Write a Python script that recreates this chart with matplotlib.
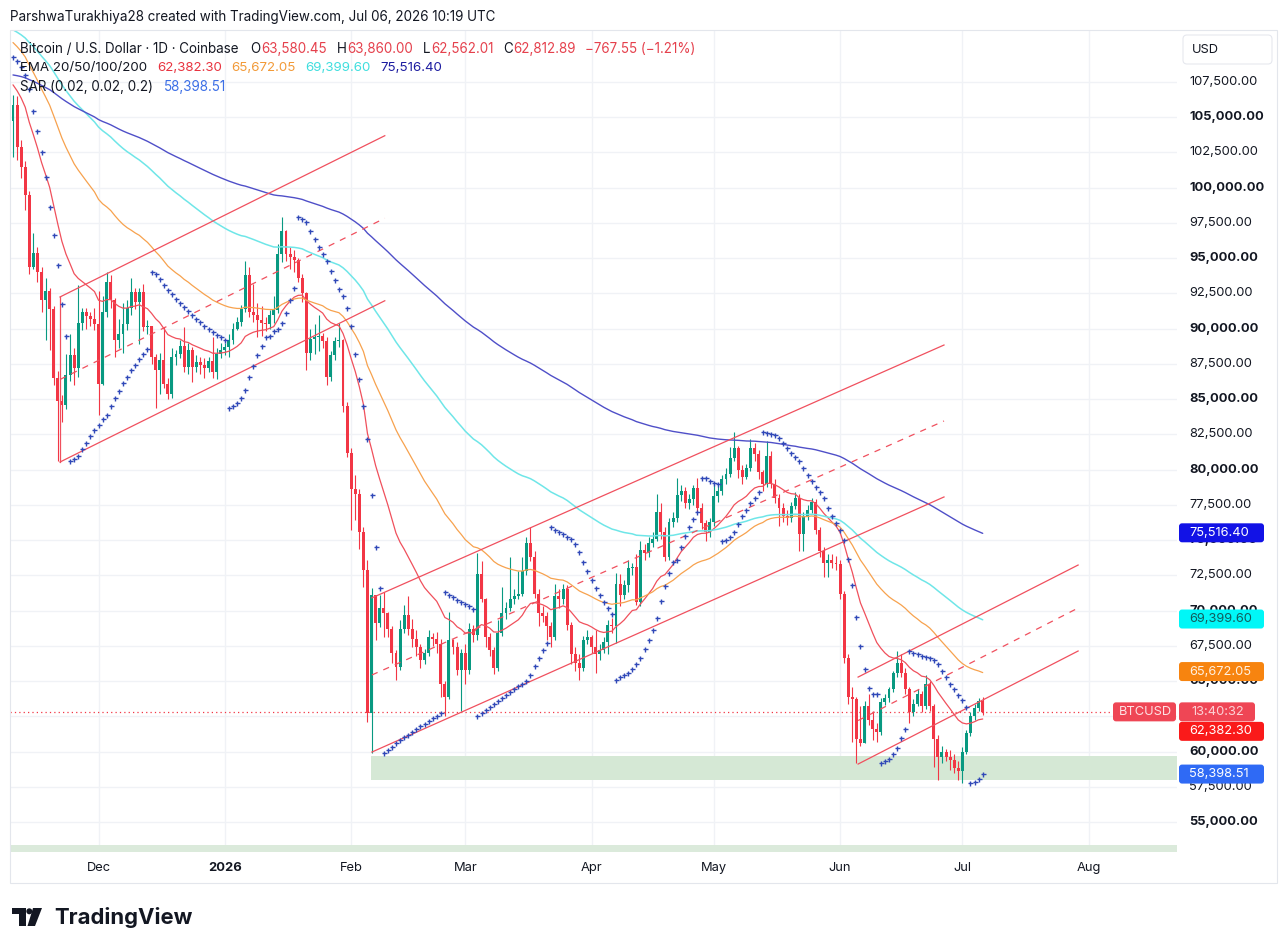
import numpy as np
import pandas as pd
import matplotlib
matplotlib.use("Agg")
import matplotlib.pyplot as plt
from matplotlib.patches import Rectangle, FancyBboxPatch, Polygon, Circle
from matplotlib.transforms import IdentityTransform

W, H = 1288, 952
plt.rcParams["font.family"] = ["Inter", "DejaVu Sans"]

# ---------------- data (prices in thousands USD) ----------------
start_date = "2025-11-10"
first_open_k = 104.7
close_k = [
    105.9, 102.9, 101.5, 99.5, 94.4, 95.4, 94.0, 92.0, 92.7, 91.4,
    86.5, 84.9, 84.6, 86.7, 88.1, 87.2, 90.4, 91.2, 90.9, 90.7,
    90.3, 86.1, 91.2, 93.3, 92.0, 89.2, 89.6, 90.3, 91.5, 92.6,
    91.9, 92.6, 90.1, 90.2, 88.0, 87.1, 87.8, 86.1, 85.4, 88.0,
    88.2, 88.8, 87.3, 88.5, 87.3, 87.6, 87.4, 87.2, 87.7, 86.9,
    88.2, 88.5, 88.7, 89.2, 90.0, 90.5, 91.4, 93.8, 91.2, 91.0,
    90.6, 90.4, 90.3, 91.0, 91.3, 95.3, 96.9, 95.3, 95.1, 94.9,
    93.6, 92.5, 88.3, 89.3, 89.4, 89.5, 89.1, 86.6, 88.1, 89.1,
    89.2, 84.5, 81.2, 78.6, 78.3, 75.6, 72.9, 62.7, 71.1, 69.1,
    70.2, 69.8, 68.7, 67.0, 66.0, 68.7, 69.7, 68.7, 68.0, 67.4,
    66.5, 67.0, 68.1, 68.0, 67.6, 64.8, 63.9, 67.9, 67.4, 65.8,
    67.0, 65.8, 68.7, 68.3, 72.6, 70.8, 68.1, 67.2, 65.9, 68.4,
    69.8, 70.2, 70.8, 71.0, 71.2, 72.8, 74.8, 73.8, 71.2, 69.8,
    69.6, 68.9, 68.1, 71.0, 70.8, 71.5, 69.0, 66.9, 66.3, 65.9,
    67.9, 68.1, 67.4, 66.9, 67.2, 67.8, 69.0, 68.9, 71.9, 71.1,
    71.8, 73.0, 73.1, 70.6, 74.3, 74.1, 74.8, 75.1, 77.0, 75.6,
    73.8, 76.3, 76.6, 78.2, 78.5, 77.6, 77.9, 78.7, 77.3, 76.2,
    75.6, 76.3, 78.1, 78.5, 79.3, 79.7, 80.8, 81.5, 80.0, 79.5,
    80.1, 81.5, 81.1, 79.8, 79.0, 81.0, 79.0, 78.0, 77.3, 76.7,
    76.6, 77.4, 78.0, 75.4, 76.7, 77.1, 77.7, 75.7, 74.2, 73.4,
    73.6, 73.4, 73.3, 71.2, 66.6, 63.9, 63.7, 60.9, 60.6, 63.2,
    62.2, 61.6, 61.4, 63.5, 63.8, 64.4, 65.6, 66.3, 65.6, 64.4,
    62.8, 63.4, 64.1, 63.2, 64.8, 63.2, 60.9, 59.6, 60.0, 59.6,
    59.4, 58.8, 58.6, 60.0, 61.3, 62.5, 63.1, 63.58045, 62.81289,
]
high_k = [
    106.6, 106.5, 103.4, 101.9, 99.8, 96.8, 95.8, 94.4, 93.6, 92.9,
    91.6, 87.0, 85.3, 88.2, 89.6, 88.6, 93.1, 91.5, 91.5, 91.2,
    91.5, 92.7, 92.3, 94.0, 93.8, 92.2, 90.7, 91.8, 92.0, 93.6,
    92.9, 92.9, 93.2, 90.6, 90.2, 88.2, 88.3, 90.1, 86.5, 88.6,
    88.5, 89.2, 90.1, 89.0, 88.7, 88.1, 88.0, 87.9, 88.0, 89.4,
    88.6, 89.0, 88.95, 89.6, 90.4, 90.8, 91.7, 94.8, 94.4, 93.2,
    91.8, 91.6, 90.8, 91.3, 92.3, 96.0, 97.9, 97.0, 95.8, 95.6,
    95.0, 93.9, 92.6, 90.0, 90.3, 91.0, 89.7, 89.4, 88.4, 89.4,
    90.4, 89.3, 84.8, 81.5, 79.6, 78.6, 75.9, 73.6, 71.6, 71.0,
    71.1, 71.3, 69.9, 68.9, 67.2, 69.3, 70.4, 71.0, 69.4, 68.6,
    67.6, 67.3, 68.6, 68.4, 68.5, 68.0, 65.0, 69.9, 68.0, 67.8,
    67.3, 67.6, 69.1, 69.0, 74.1, 73.5, 70.9, 68.4, 67.4, 69.3,
    71.7, 70.6, 73.8, 71.5, 72.8, 73.8, 75.2, 75.9, 74.2, 71.5,
    70.3, 69.9, 69.2, 71.9, 71.5, 71.9, 71.8, 69.2, 67.4, 66.9,
    68.2, 68.6, 68.3, 68.6, 67.6, 68.1, 69.3, 69.5, 72.7, 72.6,
    72.2, 73.6, 73.4, 74.0, 74.9, 74.7, 75.2, 75.6, 78.3, 77.6,
    75.9, 76.6, 77.0, 79.4, 78.9, 78.8, 78.3, 78.9, 79.4, 77.6,
    76.4, 76.6, 79.0, 78.9, 79.6, 80.1, 81.6, 82.7, 81.7, 80.3,
    80.4, 82.2, 81.9, 81.4, 80.0, 82.0, 81.3, 79.3, 78.3, 77.6,
    77.1, 77.7, 78.4, 78.3, 77.0, 77.5, 78.0, 77.9, 75.9, 74.5,
    74.0, 74.0, 73.9, 73.6, 71.4, 66.9, 64.6, 63.9, 63.2, 63.6,
    64.1, 62.9, 62.0, 63.8, 64.1, 64.6, 65.7, 67.1, 66.9, 65.9,
    64.6, 63.7, 64.4, 64.3, 65.4, 65.0, 63.4, 61.2, 60.4, 60.2,
    60.1, 59.8, 59.3, 60.3, 61.5, 62.8, 63.4, 63.8, 63.86,
]
low_k = [
    102.2, 102.0, 100.7, 98.4, 93.9, 94.2, 93.3, 91.2, 89.2, 88.5,
    86.0, 80.6, 83.4, 84.3, 86.3, 86.0, 86.6, 89.9, 90.0, 90.2,
    89.9, 83.9, 86.0, 90.8, 91.5, 88.0, 88.6, 88.3, 89.9, 91.0,
    91.4, 88.9, 89.8, 89.6, 87.5, 84.4, 85.4, 85.8, 85.0, 85.1,
    87.4, 87.9, 86.9, 86.8, 86.2, 86.9, 86.8, 86.5, 86.9, 86.5,
    86.4, 87.9, 88.1, 88.0, 88.9, 89.9, 90.2, 91.2, 90.8, 90.5,
    89.4, 89.5, 89.8, 90.0, 90.4, 91.1, 94.7, 94.8, 94.2, 94.0,
    93.3, 91.9, 87.1, 87.8, 88.2, 88.4, 88.6, 86.0, 86.3, 87.8,
    88.7, 84.1, 80.9, 75.7, 76.4, 74.4, 71.7, 62.1, 59.9, 67.9,
    68.8, 68.1, 68.1, 66.3, 65.1, 65.8, 68.4, 68.3, 67.4, 66.8,
    65.9, 66.2, 66.8, 67.5, 67.0, 63.9, 62.5, 63.7, 66.9, 65.4,
    62.9, 64.8, 65.5, 67.8, 67.9, 70.6, 67.4, 66.8, 65.5, 65.7,
    68.2, 69.4, 70.0, 70.5, 70.8, 71.0, 72.5, 73.5, 70.9, 68.9,
    69.2, 67.9, 67.4, 67.9, 70.2, 70.5, 68.6, 66.2, 65.7, 65.1,
    65.7, 67.6, 67.0, 65.6, 66.5, 67.0, 66.9, 68.4, 67.7, 70.3,
    70.8, 71.3, 72.5, 70.4, 70.3, 73.6, 73.8, 74.5, 74.9, 75.1,
    73.5, 73.6, 75.9, 76.3, 77.8, 77.3, 77.2, 77.5, 77.0, 75.8,
    74.9, 75.2, 76.0, 77.7, 78.2, 79.0, 79.5, 80.6, 79.4, 79.0,
    79.3, 79.9, 80.6, 79.3, 78.5, 78.8, 78.7, 77.6, 76.0, 76.3,
    76.1, 76.3, 77.2, 74.2, 74.2, 76.4, 76.9, 75.4, 73.8, 72.4,
    72.4, 73.0, 72.9, 70.8, 66.3, 63.4, 60.7, 59.2, 60.4, 60.6,
    61.9, 60.8, 60.7, 61.2, 63.3, 63.5, 64.2, 65.3, 65.3, 64.1,
    62.0, 62.5, 63.2, 62.8, 63.0, 62.9, 58.9, 57.98, 59.2, 59.3,
    58.7, 58.5, 57.98, 57.74, 59.8, 61.1, 62.2, 62.9, 62.56201,
]

ema_periods = [20, 50, 100, 200]
ema_start_k = [107.3, 110.3, 111.2, 108.0]        # EMA values at the first visible bar
ema_last_val = [62382.30, 65672.05, 69399.60, 75516.40]
ema_last_txt = ["62,382.30", "65,672.05", "69,399.60", "75,516.40"]
sar_params = (0.02, 0.02, 0.2)
sar_start_k = 109.3
sar_start_af = 0.04
sar_last_val = 58398.51
sar_last_txt = "58,398.51"

ohlc_txt = ["63,580.45", "63,860.00", "62,562.01", "62,812.89"]
change_txt = "\u2212767.55 (\u22121.21%)"
last_price = 62812.89
countdown_txt = "13:40:32"

# drawn channels (start/end dates, lower/upper prices)
chan_start = ["2025-11-21 13:00", "2026-02-06 02:00", "2026-06-05 10:00"]
chan_end = ["2026-02-09 06:00", "2026-06-26 12:00", "2026-07-29 10:00"]
chan_low_start = [80540, 59960, 59110]
chan_low_end = [91980, 78060, 67130]
chan_up_start = [92250, 70900, 65280]
chan_up_end = [103690, 88840, 73230]

zone_start = "2026-02-05 20:00"
zone_low, zone_high = 57980, 59660
strip_low, strip_high = 52500, 53370

view_start, view_end = "2025-11-09 06:20", "2026-08-22 16:30"
price_min, price_max = 52870, 111190

# ---------------- derived series ----------------
dates = pd.date_range(start_date, periods=len(close_k), freq="D")
c = np.array(close_k) * 1000
o = np.r_[first_open_k * 1000, c[:-1]]
h = np.maximum.reduce([np.array(high_k) * 1000, o, c])
l = np.minimum.reduce([np.array(low_k) * 1000, o, c])
n = len(c)
x = np.arange(n)


def day_pos(d):
    return (pd.Timestamp(d) - dates[0]) / pd.Timedelta(days=1)


def ema(vals, period, seed):
    a = 2.0 / (period + 1)
    out = np.empty(len(vals))
    out[0] = seed
    for i in range(1, len(vals)):
        out[i] = out[i - 1] + a * (vals[i] - out[i - 1])
    return out


def psar(hi, lo, start, inc, amax, sar0, af0):
    s = np.empty(len(hi))
    s[0] = sar0
    trend, ep, af = -1, lo[0], af0
    for i in range(1, len(hi)):
        v = s[i - 1] + af * (ep - s[i - 1])
        if trend < 0:
            v = max(v, hi[i - 1], hi[max(i - 2, 0)])
            if hi[i] > v:
                trend, v, ep, af = 1, ep, hi[i], start
            elif lo[i] < ep:
                ep, af = lo[i], min(af + inc, amax)
        else:
            v = min(v, lo[i - 1], lo[max(i - 2, 0)])
            if lo[i] < v:
                trend, v, ep, af = -1, ep, lo[i], start
            elif hi[i] > ep:
                ep, af = hi[i], min(af + inc, amax)
        s[i] = v
    return s


emas = [ema(c, p, s * 1000) for p, s in zip(ema_periods, ema_start_k)]
sar = psar(h, l, *sar_params, sar_start_k * 1000, sar_start_af)

# ---------------- styling ----------------
GREEN, RED = "#089981", "#f23645"
DARK = "#131722"
GRID = "#f0f2f6"
ema_colors = ["#f0505c", "#f7a24e", "#6fe6e8", "#4f4fc8"]
ema_txt_colors = ["#e8333f", "#f29a38", "#3fdede", "#1c1ca0"]
CHAN = "#f0505e"

fig = plt.figure(figsize=(W / 100, H / 100), dpi=100)
fig.patch.set_facecolor("white")
ax = fig.add_axes([10 / W, 1 - 852 / H, 1167 / W, 822 / H])
ax.set_xlim(day_pos(view_start), day_pos(view_end))
ax.set_ylim(price_min, price_max)
for sp in ax.spines.values():
    sp.set_visible(False)
ax.set_xticks([])
ax.set_yticks([])

price_ticks = np.arange(55000, 107501, 2500)
months = pd.date_range("2025-12-01", "2026-08-01", freq="MS")
for t in price_ticks:
    ax.axhline(t, color=GRID, lw=1, zorder=0)
for m in months:
    ax.axvline(day_pos(m), color=GRID, lw=1, zorder=0)

# zones
ax.add_patch(Rectangle((day_pos(zone_start), zone_low), 400, zone_high - zone_low,
                       facecolor="#d5e8d5", edgecolor="none", zorder=1))
ax.add_patch(Rectangle((day_pos(view_start) - 5, strip_low), 400, strip_high - strip_low,
                       facecolor="#dbeadb", edgecolor="none", zorder=1))

# candles
up = c >= o
col = np.where(up, GREEN, RED)
ax.vlines(x, l, h, colors=col, lw=0.8, zorder=3)
ax.bar(x, np.maximum(np.abs(c - o), 60), bottom=np.minimum(o, c), width=0.72,
       color=col, linewidth=0, zorder=4)

# EMAs
for e, ccol, lw in zip(emas, ema_colors, [0.9, 0.9, 1.1, 1.0]):
    ax.plot(x, e, color=ccol, lw=lw, zorder=5, solid_capstyle="round")

# SAR
ax.plot(x, sar, ls="none", marker="+", ms=3.6, mew=1.0, color="#3048b8", zorder=6)

# channels
for s, e, ls_, le, us, ue in zip(chan_start, chan_end, chan_low_start, chan_low_end,
                                  chan_up_start, chan_up_end):
    xs = [day_pos(s), day_pos(e)]
    ax.plot(xs, [ls_, le], color=CHAN, lw=0.9, zorder=5)
    ax.plot(xs, [us, ue], color=CHAN, lw=0.9, zorder=5)
    ax.plot(xs, [(ls_ + us) / 2, (le + ue) / 2], color=CHAN, lw=0.9,
            ls=(0, (5, 5)), zorder=5)
ax.plot([day_pos(chan_start[0])] * 2, [chan_low_start[0], chan_up_start[0]],
        color=CHAN, lw=0.9, zorder=5)

# last price dotted line
ax.axhline(last_price, color=RED, lw=0.9, ls=(0, (1, 2.5)), zorder=2)

fig.canvas.draw()
R = fig.canvas.get_renderer()


def fit_size(txt, target, base=10, weight="normal"):
    t = fig.text(0, 0, txt, fontsize=base, fontweight=weight)
    w = t.get_window_extent(R).width
    t.remove()
    return base * target / w


AXFS = fit_size("107,500.00", 69)

# price axis labels
yaxis_tr = ax.get_yaxis_transform()
xoff = 1 + (1189 - 1177) / 1167
for t in price_ticks:
    bold = (t % 5000 == 0)
    ax.text(xoff, t, f"{t:,.2f}", transform=yaxis_tr, ha="left", va="center",
            fontsize=AXFS, fontweight="bold" if bold else "normal",
            color=DARK, clip_on=False)

# time axis labels
xaxis_tr = ax.get_xaxis_transform()
for m in months:
    lab = str(m.year) if m.month == 1 else m.strftime("%b")
    ax.text(day_pos(m), -16 / 822, lab, transform=xaxis_tr, ha="center", va="center",
            fontsize=AXFS, fontweight="bold" if m.month == 1 else "normal",
            color=DARK, clip_on=False)


def runs(x0, y0, parts, target):
    texts, gaps = [], []
    for s, colr, gap in parts:
        texts.append(fig.text(0, 1 - y0 / H, s, color=colr, fontsize=10, va="center", ha="left"))
        gaps.append(gap)
    widths = [t.get_window_extent(R).width for t in texts]
    total = sum(widths) + sum(gaps[:-1])
    sc = target / total
    cx = x0
    for t, w, g in zip(texts, widths, gaps):
        t.set_fontsize(10 * sc)
        t.set_x(cx / W)
        cx += w * sc + g * sc


runs(10, 17, [("ParshwaTurakhiya28 created with TradingView.com, Jul 06, 2026 10:19 UTC", DARK, 0)], 491)
ORED = "#e5404c"
runs(20, 49, [("Bitcoin / U.S. Dollar \u00b7 1D \u00b7 Coinbase", DARK, 9),
              ("O", DARK, 0.5), (ohlc_txt[0], ORED, 9),
              ("H", DARK, 0.5), (ohlc_txt[1], ORED, 9),
              ("L", DARK, 0.5), (ohlc_txt[2], ORED, 9),
              ("C", DARK, 0.5), (ohlc_txt[3], ORED, 9),
              (change_txt, ORED, 0)], 677)
runs(20, 68, [("EMA 20/50/100/200", DARK, 9)] +
     [(tx, cl, 9) for tx, cl in zip(ema_last_txt, ema_txt_colors)], 423)
runs(20, 87, [("SAR (0.02, 0.02, 0.2)", DARK, 9), (sar_last_txt, "#3b6ee6", 0)], 207)


def ypix(price):
    return H - ax.transData.transform((0, price))[1]


def tag(yc, text, bg, fg, x0=1179, w=85, hgt=19, tx=10):
    fig.add_artist(FancyBboxPatch((x0, H - yc - hgt / 2), w, hgt,
                                  boxstyle="round,pad=0,rounding_size=3",
                                  transform=IdentityTransform(), facecolor=bg,
                                  edgecolor="none", zorder=10))
    fig.text((x0 + tx) / W, 1 - yc / H, text, color=fg, fontsize=AXFS,
             va="center", ha="left", zorder=11)


tag(ypix(ema_last_val[3]), ema_last_txt[3], "#1212e6", "white")
tag(ypix(ema_last_val[2]), ema_last_txt[2], "#00f7f7", "#135c5c")
tag(ypix(ema_last_val[1]), ema_last_txt[1], "#f7840f", "#fff0e0")
yl = ypix(last_price)
tag(yl, countdown_txt, "#ef4655", "#fcd3d7", w=76, tx=12)
tag(yl, "BTCUSD", "#ef4655", "#fde2e4", x0=1113, w=63, tx=6)
tag(yl + 19.5, ema_last_txt[0], "#fa1a1a", "white")
tag(ypix(sar_last_val), sar_last_txt, "#2f6af5", "white")

# USD box
fig.add_artist(FancyBboxPatch((1183, H - 64), 89, 29, boxstyle="round,pad=0,rounding_size=4",
                              transform=IdentityTransform(), facecolor="white",
                              edgecolor="#e6e8ee", lw=0.8, zorder=10))
fig.text(1192 / W, 1 - 50 / H, "USD", fontsize=AXFS, color=DARK, va="center", ha="left", zorder=11)

# outer frame
fig.add_artist(Rectangle((10, H - 883), 1267, 853, transform=IdentityTransform(),
                         fill=False, edgecolor="#e3e6ec", lw=0.8, zorder=20))

# TradingView logo
ident = IdentityTransform()
for poly in [[(12, 908), (25.5, 908), (25.5, 926), (19, 926), (19, 913.5), (12, 913.5)],
             [(33, 908), (42, 908), (35, 926), (27.5, 926)]]:
    fig.add_artist(Polygon([(px, H - py) for px, py in poly], closed=True,
                           transform=ident, facecolor=DARK, edgecolor="none"))
fig.add_artist(Circle((29.3, H - 911.3), 3.0, transform=ident, facecolor=DARK, edgecolor="none"))
lf = fit_size("TradingView", 139, base=16, weight="bold")
fig.text(54 / W, 1 - 918 / H, "TradingView", fontsize=lf, fontweight="bold",
         color=DARK, va="center", ha="left")

fig.savefig("out.png", dpi=100, facecolor="white")
